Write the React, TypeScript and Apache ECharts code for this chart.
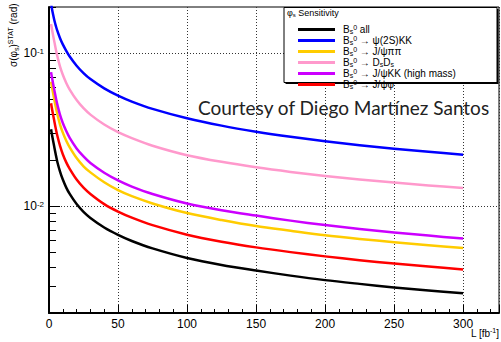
import React, { useEffect, useRef } from 'react';
import * as echarts from 'echarts';

// Integrated luminosity (fb^-1) at which the curves are read
const lumi = [1.5, 2, 3, 4, 5, 6, 8, 10, 12.5, 15, 20, 25, 30, 40, 50, 60, 75, 100, 125, 150, 175, 200, 225, 250, 275, 300];

// sigma(phi_s) statistical (rad)
const sigmaAll = [0.0318, 0.0298, 0.0266, 0.0239, 0.0215, 0.0195, 0.0168, 0.0149, 0.0132, 0.012, 0.0103, 0.00916, 0.00836, 0.00724, 0.00648, 0.00591, 0.00529, 0.00458, 0.00412, 0.00379, 0.00351, 0.00328, 0.0031, 0.00294, 0.00281, 0.00269];
const sigmaPsi2SKK = [0.213, 0.198, 0.178, 0.162, 0.15, 0.14, 0.125, 0.114, 0.1035, 0.095, 0.0827, 0.074, 0.0676, 0.0588, 0.0527, 0.0482, 0.0432, 0.0375, 0.03354, 0.03062, 0.02835, 0.02652, 0.025, 0.02372, 0.02262, 0.02165];
const sigmaJpsiPiPi = [0.065, 0.061, 0.0545, 0.0488, 0.044, 0.04, 0.0341, 0.0302, 0.0267, 0.0242, 0.0206, 0.0182, 0.0166, 0.0143, 0.0127, 0.0116, 0.0104, 0.009, 0.0081, 0.0074, 0.0069, 0.00645, 0.0061, 0.0058, 0.00554, 0.00531];
const sigmaDsDs = [0.155, 0.146, 0.13, 0.117, 0.105, 0.0956, 0.0816, 0.0722, 0.0638, 0.0577, 0.0493, 0.0436, 0.0396, 0.0341, 0.0304, 0.0278, 0.0248, 0.0215, 0.01945, 0.01792, 0.01672, 0.01574, 0.01493, 0.01424, 0.01364, 0.01312];
const sigmaJpsiKKHigh = [0.0751, 0.0705, 0.0629, 0.0564, 0.0508, 0.0462, 0.0394, 0.0349, 0.0309, 0.0279, 0.0238, 0.0211, 0.0191, 0.0165, 0.0147, 0.0134, 0.012, 0.0104, 0.0094, 0.00867, 0.00803, 0.00751, 0.00708, 0.00672, 0.00641, 0.00613];
const sigmaJpsiPhi = [0.047, 0.0441, 0.0394, 0.0353, 0.0318, 0.0289, 0.0247, 0.0218, 0.0193, 0.0175, 0.0149, 0.0132, 0.012, 0.0103, 0.0092, 0.0084, 0.0075, 0.0065, 0.00585, 0.00537, 0.005, 0.00469, 0.00443, 0.00421, 0.00402, 0.00385];

const seriesNames = ['all', 'psi2SKK', 'JpsiPiPi', 'DsDs', 'JpsiKKhigh', 'JpsiPhi'];
const seriesLabels = [
  '{m|B}{sub|s}{sup|0}{m| all}',
  '{m|B}{sub|s}{sup|0}{m| \u2192 \u03c8(2S)KK}',
  '{m|B}{sub|s}{sup|0}{m| \u2192 J/\u03c8\u03c0\u03c0}',
  '{m|B}{sub|s}{sup|0}{m| \u2192 D}{sub|s}{m|D}{sub|s}',
  '{m|B}{sub|s}{sup|0}{m| \u2192 J/\u03c8KK (high mass)}',
  '{m|B}{sub|s}{sup|0}{m| \u2192 J/\u03c8\u03c6}',
];
const seriesValues = [sigmaAll, sigmaPsi2SKK, sigmaJpsiPiPi, sigmaDsDs, sigmaJpsiKKHigh, sigmaJpsiPhi];
const seriesColors = ['#000000', '#0000ff', '#ffcc00', '#ff99cc', '#cc00ff', '#ff0000'];

const yMajor = [0.01, 0.1];
const yMinor = [0.002, 0.003, 0.004, 0.005, 0.006, 0.007, 0.008, 0.009, 0.02, 0.03, 0.04, 0.05, 0.06, 0.07, 0.08, 0.09, 0.2];
const yGrid = [0.003, 0.004, 0.005, 0.006, 0.007, 0.008, 0.009, 0.01, 0.02, 0.03, 0.04, 0.05, 0.06, 0.07, 0.08, 0.09, 0.1];

const FONT = 'Liberation Sans, Arial, Helvetica, sans-serif';

function tok(size: number, extra: any = {}) {
  return { fontSize: size, fontFamily: FONT, color: '#000', fill: '#000', ...extra };
}

export default function App() {
  const ref = useRef<HTMLDivElement>(null);
  useEffect(() => {
    if (!ref.current) return;
    const chart = echarts.init(ref.current, null, { renderer: 'svg' });
    const option: any = {
      animation: false,
      backgroundColor: '#fff',
      grid: { left: 49, right: 2, top: 7, bottom: 29, show: true, borderColor: '#000', borderWidth: 1, containLabel: false },
      xAxis: {
        type: 'value', min: 0, max: 326, interval: 50,
        axisLine: { show: true, onZero: false, lineStyle: { color: '#000', width: 2 } },
        axisTick: { show: true, inside: true, length: 8, lineStyle: { color: '#000', width: 1 } },
        minorTick: { show: true, splitNumber: 5, length: 4, lineStyle: { color: '#000', width: 1 } },
        splitLine: { show: true, lineStyle: { color: '#333', width: 1, type: [1, 2] } },
        axisLabel: { showMaxLabel: false, color: '#000', fontSize: 12, fontFamily: FONT, margin: 5 },
      },
      yAxis: [
        {
          type: 'log', logBase: 10, min: 0.002, max: 0.2,
          axisLine: { show: true, onZero: false, lineStyle: { color: '#000', width: 2 } },
          axisTick: { show: true, inside: true, length: 11, customValues: yMajor, lineStyle: { color: '#000', width: 1 } },
          minorTick: { show: false },
          splitLine: { show: true, customValues: yGrid, lineStyle: { color: '#333', width: 1, type: [1, 2] } },
          axisLabel: {
            customValues: yMajor, margin: 5,
            formatter: (v: number) => `{m|10}{sup|${Math.round(Math.log10(v))}}`,
            rich: { m: tok(12), sup: tok(8, { verticalAlign: 'top' }) },
          },
        },
        {
          type: 'log', logBase: 10, min: 0.002, max: 0.2, position: 'left',
          axisLine: { show: false },
          axisTick: { show: true, inside: true, length: 7, customValues: yMinor, lineStyle: { color: '#000', width: 1 } },
          axisLabel: { show: false },
          splitLine: { show: false },
          minorTick: { show: false },
        },
      ],
      legend: {
        orient: 'vertical', left: 293, top: 19, z: 10,
        itemWidth: 37, itemHeight: 3, itemGap: 0, icon: 'rect', selectedMode: false,
        data: seriesNames,
        formatter: (name: string) => seriesLabels[seriesNames.indexOf(name)],
        textStyle: {
          fontSize: 10, fontFamily: FONT, color: '#000', padding: [0, 0, 0, 3],
          rich: {
            m: tok(10, { lineHeight: 11 }),
            sub: tok(7, { verticalAlign: 'bottom' }),
            sup: tok(7, { verticalAlign: 'top' }),
          },
        },
      },
      graphic: [
        { type: 'rect', z: 8, shape: { x: 285.5, y: 9, width: 213, height: 75 }, style: { fill: '#000' } },
        { type: 'rect', z: 9, shape: { x: 284, y: 7.5, width: 213, height: 75 }, style: { fill: '#fff', stroke: '#000', lineWidth: 1 } },
        {
          type: 'text', z: 11, x: 287, y: 13,
          style: {
            text: '{m|\u03c6}{sub|s}{m| Sensitivity}',
            fill: '#000',
            rich: { m: tok(9, { lineHeight: 10 }), sub: tok(6, { verticalAlign: 'bottom' }) },
            align: 'left', verticalAlign: 'middle', textAlign: 'left', textVerticalAlign: 'middle',
          },
        },
        {
          type: 'text', z: 11, x: 198, y: 107,
          style: {
            text: 'Courtesy of Diego Mart\u00ednez Santos',
            fontSize: 19, fontFamily: 'Lato, DejaVu Sans, sans-serif', fill: '#222',
            align: 'left', verticalAlign: 'middle', textAlign: 'left', textVerticalAlign: 'middle',
          },
        },
        {
          type: 'text', z: 11, x: 13, y: 67, rotation: Math.PI / 2,
          style: {
            text: '{m|\u03c3(\u03c6}{sub|s}{m|)}{sup|STAT}{m| (rad)}',
            fill: '#000',
            rich: {
              m: tok(10, { lineHeight: 13 }),
              sub: tok(7, { verticalAlign: 'bottom' }),
              sup: tok(7, { verticalAlign: 'top' }),
            },
            align: 'left', verticalAlign: 'middle', textAlign: 'left', textVerticalAlign: 'middle',
          },
        },
        {
          type: 'text', z: 11, x: 499, y: 333,
          style: {
            text: '{m|L [fb}{sup|-1}{m|]}',
            fill: '#000',
            rich: { m: tok(10, { lineHeight: 12 }), sup: tok(7, { verticalAlign: 'top' }) },
            align: 'right', verticalAlign: 'middle', textAlign: 'right', textVerticalAlign: 'middle',
          },
        },
      ],
      series: seriesNames.map((name, i) => ({
        name,
        type: 'line',
        yAxisIndex: 0,
        data: lumi.map((l, j) => [l, seriesValues[i][j]]),
        showSymbol: false,
        symbol: 'none',
        smooth: 0.3,
        clip: true,
        color: seriesColors[i],
        lineStyle: { color: seriesColors[i], width: 2.5, join: 'round' },
        z: 3,
      })),
    };
    chart.setOption(option);
    return () => chart.dispose();
  }, []);
  return <div ref={ref} style={{ position: 'fixed', left: 0, top: 0, width: 501, height: 342 }} />;
}
